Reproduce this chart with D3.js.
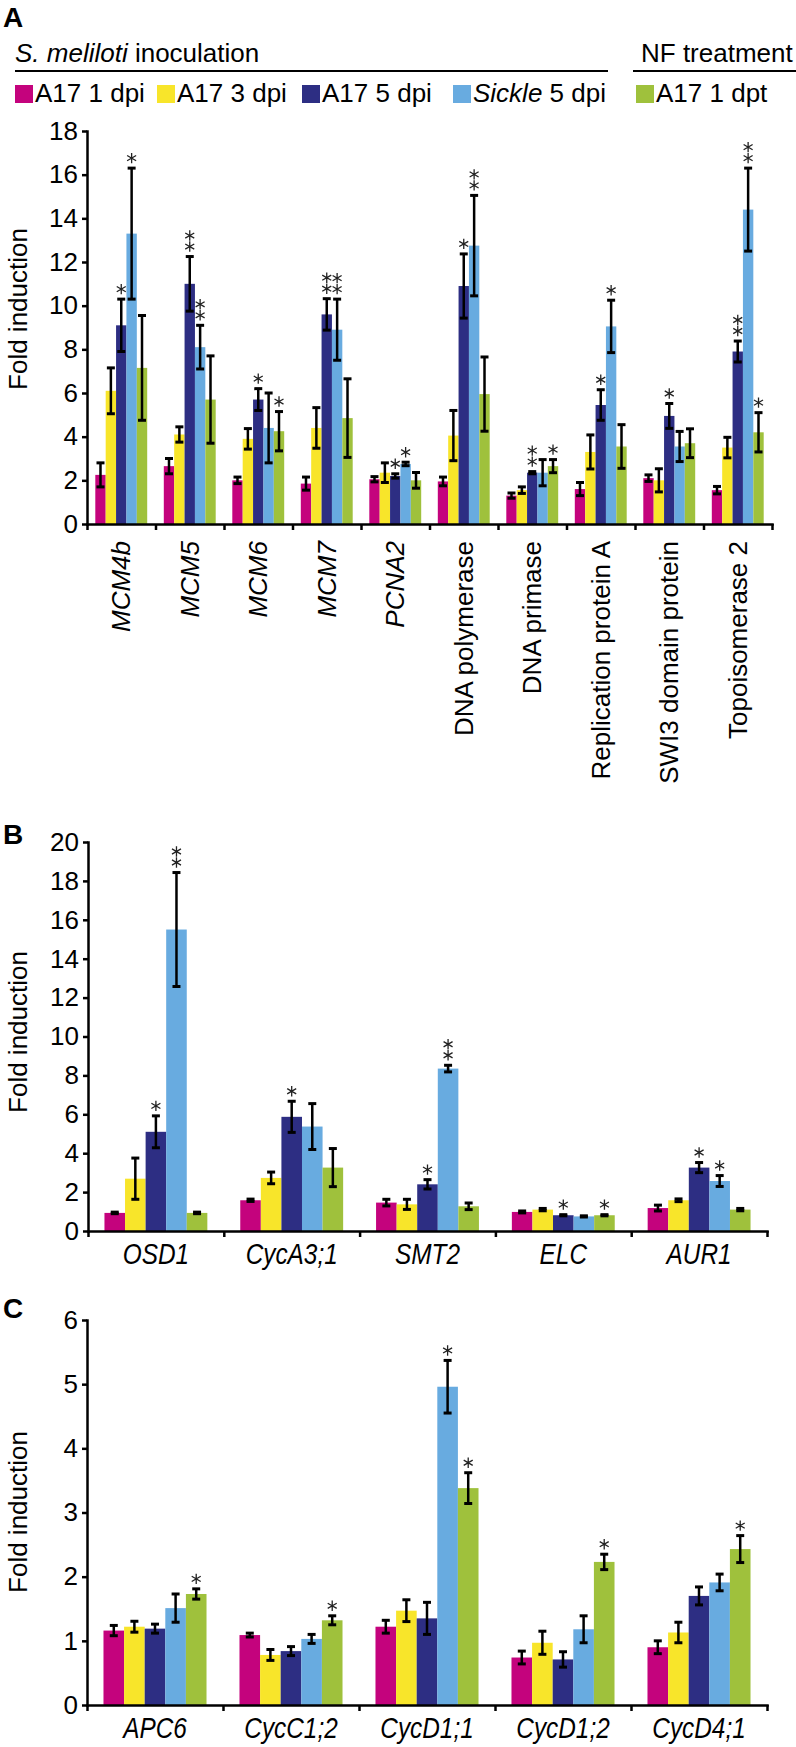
<!DOCTYPE html>
<html><head><meta charset="utf-8">
<script src="https://cdn.jsdelivr.net/npm/d3@7"></script>
<style>
body{margin:0;background:#fff}
svg{display:block}
text{font-family:"Liberation Sans",Arial,Helvetica,sans-serif}
</style>
</head><body>
<div id="chart"></div>
<script>
// ---------- data ----------
const seriesNames = ["A17 1 dpi", "A17 3 dpi", "A17 5 dpi", "Sickle 5 dpi", "A17 1 dpt"];
const seriesColors = ["#c4037d", "#f8e52a", "#2d2e83", "#68abe0", "#9fc13c"];

// Panel A
const categoriesA = ["MCM4b","MCM5","MCM6","MCM7","PCNA2","DNA polymerase","DNA primase","Replication protein A","SWI3 domain protein","Topoisomerase 2"];
const italicA = [true,true,true,true,true,false,false,false,false,false];
const ticksA = [0,2,4,6,8,10,12,14,16,18];
const a17_1dpiA = [2.25, 2.65, 2.0, 1.85, 2.05, 1.95, 1.3, 1.6, 2.1, 1.55];
const a17_3dpiA = [6.1, 4.1, 3.9, 4.4, 2.35, 4.05, 1.55, 3.3, 2.0, 3.5];
const a17_5dpiA = [9.1, 11.0, 5.7, 9.6, 2.2, 10.9, 2.35, 5.45, 4.95, 7.9];
const sickle5dpiA = [13.3, 8.1, 4.4, 8.9, 2.75, 12.75, 2.35, 9.05, 3.55, 14.4];
const a17_1dptA = [7.15, 5.7, 4.25, 4.85, 2.0, 5.95, 2.65, 3.55, 3.7, 4.2];
const err1dpiA = [0.55, 0.35, 0.15, 0.3, 0.12, 0.2, 0.12, 0.3, 0.15, 0.17];
const err3dpiA = [1.05, 0.35, 0.47, 0.93, 0.45, 1.15, 0.15, 0.78, 0.53, 0.47];
const err5dpiA = [1.2, 1.25, 0.5, 0.72, 0.1, 1.47, 0.05, 0.7, 0.57, 0.48];
const errSickleA = [3.0, 1.0, 1.6, 1.4, 0.08, 2.3, 0.6, 1.2, 0.69, 1.9];
const err1dptA = [2.4, 2.0, 0.9, 1.8, 0.36, 1.7, 0.3, 1.0, 0.66, 0.9];
const stars1dpiA = [0,0,0,0,0,0,0,0,0,0];
const stars3dpiA = [0,0,0,0,0,0,0,0,0,0];
const stars5dpiA = [1,2,1,2,1,1,2,1,1,2];
const starsSickleA = [1,2,0,2,1,2,0,1,0,2];
const stars1dptA = [0,0,1,0,0,0,1,0,0,1];

// Panel B
const categoriesB = ["OSD1","CycA3;1","SMT2","ELC","AUR1"];
const ticksB = [0,2,4,6,8,10,12,14,16,18,20];
const a17_1dpiB = [0.93, 1.58, 1.46, 0.98, 1.18];
const a17_3dpiB = [2.69, 2.73, 1.37, 1.1, 1.58];
const a17_5dpiB = [5.1, 5.87, 2.4, 0.81, 3.26];
const sickle5dpiB = [15.5, 5.37, 8.35, 0.75, 2.57];
const a17_1dptB = [0.93, 3.26, 1.27, 0.81, 1.1];
const err1dpiB = [0.04, 0.06, 0.17, 0.05, 0.15];
const err3dpiB = [1.06, 0.3, 0.26, 0.06, 0.07];
const err5dpiB = [0.82, 0.8, 0.24, 0.03, 0.26];
const errSickleB = [2.93, 1.18, 0.17, 0.03, 0.28];
const err1dptB = [0.04, 0.98, 0.17, 0.03, 0.06];
const stars1dpiB = [0,0,0,0,0];
const stars3dpiB = [0,0,0,0,0];
const stars5dpiB = [1,1,1,1,1];
const starsSickleB = [2,0,2,0,1];
const stars1dptB = [0,0,0,1,0];

// Panel C
const categoriesC = ["APC6","CycC1;2","CycD1;1","CycD1;2","CycD4;1"];
const ticksC = [0,1,2,3,4,5,6];
const a17_1dpiC = [1.16, 1.09, 1.22, 0.74, 0.9];
const a17_3dpiC = [1.22, 0.78, 1.47, 0.97, 1.13];
const a17_5dpiC = [1.19, 0.84, 1.35, 0.71, 1.7];
const sickle5dpiC = [1.51, 1.03, 4.96, 1.18, 1.91];
const a17_1dptC = [1.73, 1.32, 3.38, 2.23, 2.43];
const err1dpiC = [0.08, 0.03, 0.1, 0.1, 0.1];
const err3dpiC = [0.085, 0.085, 0.17, 0.18, 0.16];
const err5dpiC = [0.07, 0.07, 0.25, 0.12, 0.14];
const errSickleC = [0.22, 0.07, 0.41, 0.21, 0.13];
const err1dptC = [0.08, 0.07, 0.24, 0.12, 0.21];
const stars1dpiC = [0,0,0,0,0];
const stars3dpiC = [0,0,0,0,0];
const stars5dpiC = [0,0,0,0,0];
const starsSickleC = [0,0,1,0,0];
const stars1dptC = [1,1,1,1,1];

// ---------- drawing ----------
const W = 796, H = 1747;
const svg = d3.select("#chart").append("svg").attr("width", W).attr("height", H)
  .style("background", "#fff");

// Header
const hdr = svg.append("g");
hdr.append("text").attr("x", 3).attr("y", 27).attr("font-size", 28).attr("font-weight", "bold").text("A");
const t1 = hdr.append("text").attr("x", 15).attr("y", 62).attr("font-size", 26);
t1.append("tspan").attr("font-style", "italic").text("S. meliloti");
t1.append("tspan").text(" inoculation");
hdr.append("text").attr("x", 641).attr("y", 62).attr("font-size", 26).text("NF treatment");
hdr.append("line").attr("x1", 15).attr("x2", 608).attr("y1", 71).attr("y2", 71).attr("stroke", "#000").attr("stroke-width", 2);
hdr.append("line").attr("x1", 633).attr("x2", 796).attr("y1", 71).attr("y2", 71).attr("stroke", "#000").attr("stroke-width", 2);

const legendX = [15, 157, 302, 453, 636];
const leg = hdr.selectAll("g.leg").data(seriesNames).join("g").attr("class", "leg")
  .attr("transform", (d, i) => `translate(${legendX[i]},85)`);
leg.append("rect").attr("width", 18).attr("height", 18).attr("fill", (d, i) => seriesColors[i]);
leg.each(function(d, i) {
  const t = d3.select(this).append("text").attr("x", 20).attr("y", 16.5).attr("font-size", 26);
  if (d.startsWith("Sickle")) {
    t.append("tspan").attr("font-style", "italic").text("Sickle");
    t.append("tspan").text(d.slice(6));
  } else t.text(d);
});

function starPath(cx, cy, r) {
  let p = "";
  [90, 30, 150].forEach(a => {
    const rad = a * Math.PI / 180, dx = Math.cos(rad) * r, dy = Math.sin(rad) * r;
    p += `M${cx - dx},${cy - dy}L${cx + dx},${cy + dy}`;
  });
  return p;
}

function drawPanel(p) {
  const g = svg.append("g");
  const y = d3.scaleLinear().domain([0, p.yMax]).range([p.y0, p.y1]);
  const xb = d3.scaleBand().domain(p.categories).range([p.x0, p.x1]).padding(0);
  const xs = d3.scaleBand().domain(d3.range(seriesNames.length)).range([0, xb.bandwidth()])
    .paddingInner(0).paddingOuter(0.8);
  const recs = [];
  p.categories.forEach((c, i) => {
    p.values.forEach((arr, s) => {
      recs.push({c, s, v: arr[i], e: p.errors[s][i], st: p.stars[s][i]});
    });
  });
  // bars
  g.append("g").selectAll("rect").data(recs).join("rect")
    .attr("x", d => xb(d.c) + xs(d.s))
    .attr("y", d => y(d.v))
    .attr("width", xs.bandwidth())
    .attr("height", d => y(0) - y(d.v))
    .attr("fill", d => seriesColors[d.s]);
  // axes
  const yAxis = g.append("g").attr("transform", `translate(${p.x0},0)`)
    .call(d3.axisLeft(y).tickValues(p.ticks).tickFormat(d3.format("d"))
      .tickSize(5).tickSizeOuter(0).tickPadding(4));
  yAxis.attr("font-size", 26).attr("font-family", "Liberation Sans, Arial, sans-serif");
  yAxis.selectAll("text").attr("fill", "#000");
  const xl = d3.scaleLinear().domain([0, p.categories.length]).range([p.x0, p.x1]);
  const xAxis = g.append("g").attr("transform", `translate(0,${p.y0})`)
    .call(d3.axisBottom(xl).tickValues(d3.range(p.categories.length + 1)).tickSize(6).tickSizeOuter(0).tickFormat(""));
  [yAxis, xAxis].forEach(a => {
    a.select(".domain").attr("stroke", "#000").attr("stroke-width", 2.5).attr("stroke-linecap", "square");
    a.selectAll(".tick line").attr("stroke", "#000").attr("stroke-width", 2.5);
  });
  // category labels
  const lab = g.append("g").attr("transform", `translate(0,${p.y0})`)
    .call(d3.axisBottom(xb).tickSize(0));
  lab.select(".domain").remove();
  lab.attr("font-family", "Liberation Sans, Arial, sans-serif").attr("font-size", p.labelSize);
  const lt = lab.selectAll("text").attr("fill", "#000")
    .attr("font-style", (d, i) => p.italic[i] ? "italic" : "normal");
  if (p.rotate) {
    lt.attr("transform", "rotate(-90)").attr("x", -p.labelOffset).attr("y", 0)
      .attr("dy", "0.35em").attr("text-anchor", "end");
  } else {
    lt.attr("x", 0).attr("y", 0).attr("dy", 0)
      .attr("transform", `translate(0,${p.labelOffset}) scale(${p.labelScaleX},1)`);
  }
  // error bars
  const eb = g.append("g").attr("stroke", "#000");
  const cx = d => xb(d.c) + xs(d.s) + xs.bandwidth() / 2;
  eb.selectAll("line.v").data(recs).join("line").attr("class", "v")
    .attr("x1", cx).attr("x2", cx)
    .attr("y1", d => y(d.v + d.e)).attr("y2", d => y(d.v - d.e)).attr("stroke-width", 2.5);
  eb.selectAll("line.t").data(recs).join("line").attr("class", "t")
    .attr("x1", d => cx(d) - 4).attr("x2", d => cx(d) + 4)
    .attr("y1", d => y(d.v + d.e)).attr("y2", d => y(d.v + d.e)).attr("stroke-width", 3);
  eb.selectAll("line.b").data(recs).join("line").attr("class", "b")
    .attr("x1", d => cx(d) - 4).attr("x2", d => cx(d) + 4)
    .attr("y1", d => y(d.v - d.e)).attr("y2", d => y(d.v - d.e)).attr("stroke-width", 3);
  // significance stars
  const starRecs = [];
  recs.forEach(d => { for (let k = 0; k < d.st; k++) starRecs.push({d, k}); });
  g.append("g").selectAll("path").data(starRecs).join("path")
    .attr("d", r => starPath(cx(r.d), y(r.d.v + r.d.e) - 10 - r.k * 11, 5.2))
    .attr("stroke", "#222").attr("stroke-width", 1.3).attr("fill", "none");
  // y title
  g.append("text").attr("transform", `translate(27,${p.titleY}) rotate(-90)`)
    .attr("text-anchor", "middle").attr("font-size", 26).text("Fold induction");
  if (p.letter) {
    g.append("text").attr("x", 3).attr("y", p.letterY).attr("font-size", 28)
      .attr("font-weight", "bold").text(p.letter);
  }
}

drawPanel({
  categories: categoriesA, italic: italicA, ticks: ticksA, yMax: 18,
  values: [a17_1dpiA, a17_3dpiA, a17_5dpiA, sickle5dpiA, a17_1dptA],
  errors: [err1dpiA, err3dpiA, err5dpiA, errSickleA, err1dptA],
  stars: [stars1dpiA, stars3dpiA, stars5dpiA, starsSickleA, stars1dptA],
  x0: 87, x1: 772, y0: 524, y1: 131, rotate: true, labelOffset: 17,
  labelSize: 26, titleY: 309
});
drawPanel({
  categories: categoriesB, italic: categoriesB.map(() => true), ticks: ticksB, yMax: 20,
  values: [a17_1dpiB, a17_3dpiB, a17_5dpiB, sickle5dpiB, a17_1dptB],
  errors: [err1dpiB, err3dpiB, err5dpiB, errSickleB, err1dptB],
  stars: [stars1dpiB, stars3dpiB, stars5dpiB, starsSickleB, stars1dptB],
  x0: 88, x1: 767, y0: 1231, y1: 842, rotate: false, labelOffset: 33,
  labelSize: 29, labelScaleX: 0.84,
  titleY: 1032, letter: "B", letterY: 844
});
drawPanel({
  categories: categoriesC, italic: categoriesC.map(() => true), ticks: ticksC, yMax: 6,
  values: [a17_1dpiC, a17_3dpiC, a17_5dpiC, sickle5dpiC, a17_1dptC],
  errors: [err1dpiC, err3dpiC, err5dpiC, errSickleC, err1dptC],
  stars: [stars1dpiC, stars3dpiC, stars5dpiC, starsSickleC, stars1dptC],
  x0: 87, x1: 767, y0: 1705, y1: 1320, rotate: false, labelOffset: 33,
  labelSize: 29, labelScaleX: 0.84,
  titleY: 1512, letter: "C", letterY: 1318
});
</script>
</body></html>
